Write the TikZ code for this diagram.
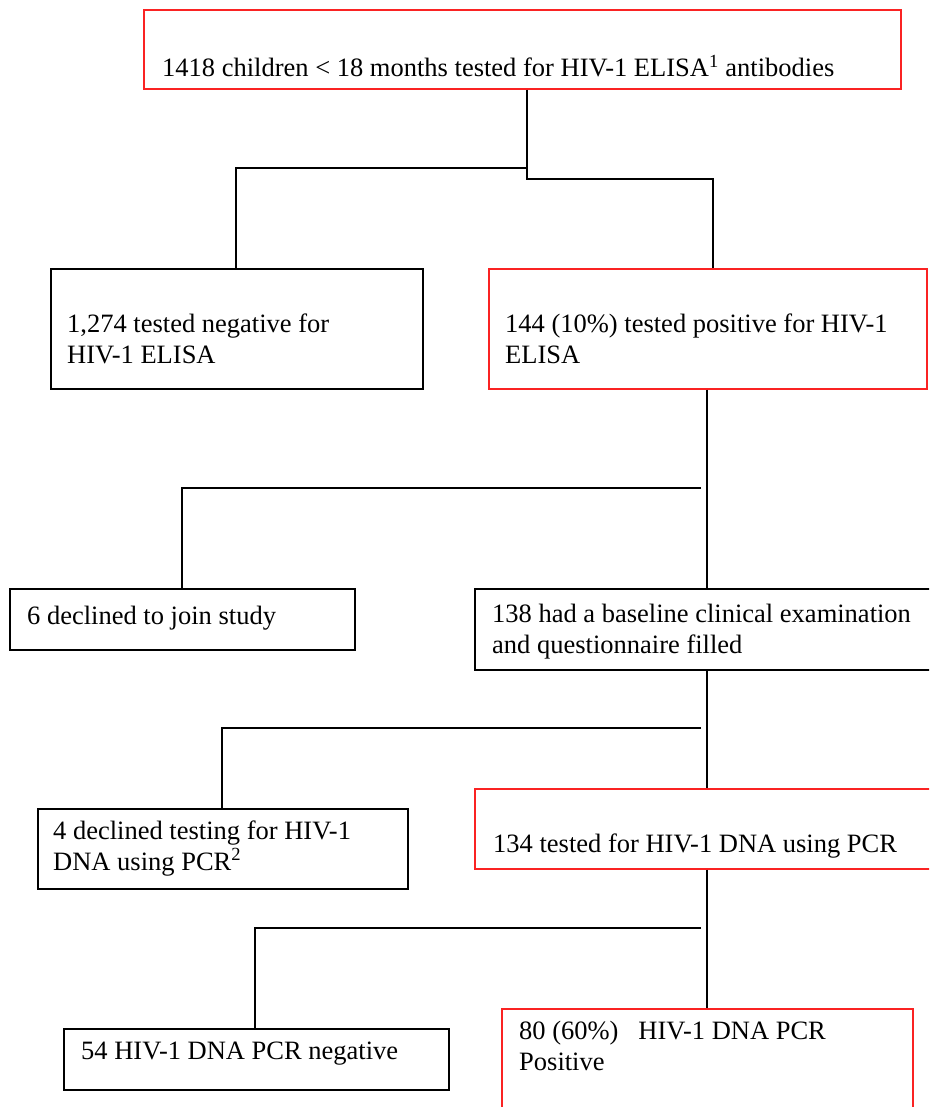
\documentclass[tikz,border=0pt]{standalone}
\usepackage{fontspec}
\setmainfont{Liberation Serif}
\definecolor{boxred}{RGB}{250,35,35}
\begin{document}
\begin{tikzpicture}[x=1pt,y=-1pt,
  frame/.style={draw=black, line width=1.6pt, rectangle, inner sep=0pt, anchor=north west},
  redframe/.style={frame, draw=boxred},
  label/.style={anchor=base west, inner sep=0pt, align=left,
    font=\fontsize{26.5}{30.5}\selectfont},
  conn/.style={draw=black, line width=1.4pt}]
\useasboundingbox (0,0) rectangle (929,1107);
\clip (0,0) rectangle (929,1107);
% boxes
\node[redframe, minimum width=757pt, minimum height=79pt] (b1) at (143,9) {};
\node[frame, minimum width=372pt, minimum height=120pt] (b2) at (50,268) {};
\node[redframe, minimum width=438pt, minimum height=120pt] (b3) at (488,268) {};
\node[frame, minimum width=345pt, minimum height=61pt] (b4) at (9,588) {};
\node[frame, minimum width=490pt, minimum height=81pt] (b5) at (474,588) {};
\node[frame, minimum width=370pt, minimum height=80pt] (b6) at (37,808) {};
\node[redframe, minimum width=490pt, minimum height=80pt] (b7) at (474,788) {};
\node[frame, minimum width=385pt, minimum height=61pt] (b8) at (63,1028) {};
\node[redframe, minimum width=411pt, minimum height=130pt] (b9) at (501,1008) {};
% texts (base anchor = baseline of the last line)
\node[label] (t1) at (162,77) {1418 children < 18 months tested for HIV-1 ELISA\textsuperscript{1} antibodies};
\node[label] (t2) at (67,363) {1,274 tested negative for\\HIV-1 ELISA};
\node[label] (t3) at (505,363) {144 (10\%) tested positive for HIV-1\\ELISA};
\node[label] (t4) at (27,624) {6 declined to join study};
\node[label] (t5) at (492,653) {138 had a baseline clinical examination\\and questionnaire filled};
\node[label] (t6) at (53,870) {4 declined testing for HIV-1\\DNA using PCR\textsuperscript{2}};
\node[label] (t7) at (493,852) {134 tested for HIV-1 DNA using PCR};
\node[label] (t8) at (81,1059) {54 HIV-1 DNA PCR negative};
\node[label] (t9) at (519,1070) {80 (60\%) \ \ HIV-1 DNA PCR\\Positive};
% connector coordinates
\coordinate (x236) at (236,0);
\coordinate (x713) at (713,0);
\coordinate (x707) at (707,0);
\coordinate (x182) at (182,0);
\coordinate (x222) at (222,0);
\coordinate (x255) at (255,0);
\coordinate (s1) at (527,179);
\coordinate (s1l) at (527,168);
\coordinate (h2) at (701,488);
\coordinate (h3) at (701,728);
\coordinate (h4) at (701,928);
% connectors
\draw[conn] (b1.south -| s1) -- (s1) -- (s1 -| x713) -- (b3.north -| x713);
\draw[conn] (s1l) -- (s1l -| x236) -- (b2.north -| x236);
\draw[conn] (b3.south -| x707) -- (b5.north -| x707);
\draw[conn] (h2) -- (h2 -| x182) -- (b4.north -| x182);
\draw[conn] (b5.south -| x707) -- (b7.north -| x707);
\draw[conn] (h3) -- (h3 -| x222) -- (b6.north -| x222);
\draw[conn] (b7.south -| x707) -- (b9.north -| x707);
\draw[conn] (h4) -- (h4 -| x255) -- (b8.north -| x255);
\end{tikzpicture}
\end{document}
